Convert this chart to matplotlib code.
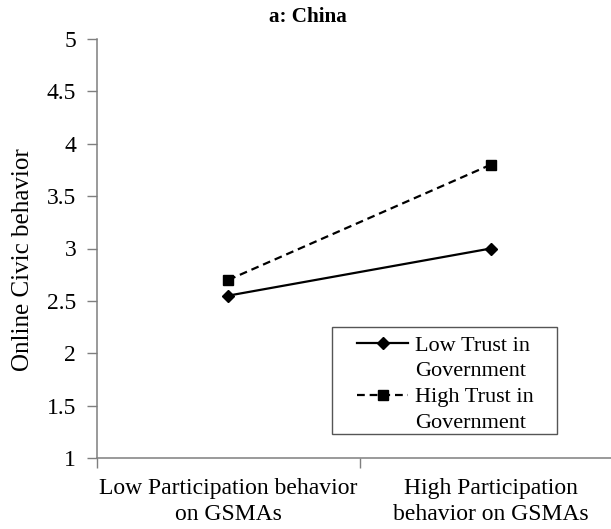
import matplotlib
matplotlib.use("Agg")
import matplotlib.pyplot as plt
from matplotlib.patches import Rectangle
from matplotlib.lines import Line2D

categories = ["Low Participation behavior\non GSMAs", "High Participation\nbehavior on GSMAs"]
low_trust = [2.55, 3.0]
high_trust = [2.70, 3.80]
yticks = [1, 1.5, 2, 2.5, 3, 3.5, 4, 4.5, 5]
ytick_labels = ["1", "1.5", "2", "2.5", "3", "3.5", "4", "4.5", "5"]
series_names = ["Low Trust in\nGovernment", "High Trust in\nGovernment"]
title = "a: China"
ylabel = "Online Civic behavior"

plt.rcParams['font.family'] = ['Liberation Serif', 'DejaVu Serif']

W, H = 611, 529
fig = plt.figure(figsize=(W/100, H/100), dpi=100)
left, right, top, bottom = 97, 622, 39, 458
ax = fig.add_axes([left/W, 1 - bottom/H, (right-left)/W, (bottom-top)/H])

x = [1, 2]
l1, = ax.plot(x, low_trust, color='black', lw=1.6, marker='D', markersize=6)
l2, = ax.plot(x, high_trust, color='black', lw=1.6, ls=(0, (3.5, 2.2)), marker='s', markersize=7.5)

ax.set_xlim(0.5, 2.5)
ax.set_ylim(1, 5)

spine_col = '#7f7f7f'
ax.set_yticks(yticks)
ax.set_yticklabels(ytick_labels, fontsize=17)
ax.tick_params(axis='y', direction='out', length=7, width=1, pad=8, colors=spine_col, labelcolor='black')

ax.set_xticks([0.5, 1.5, 2.5])
ax.set_xticklabels(["", "", ""])
ax.tick_params(axis='x', direction='out', length=7, width=1, colors=spine_col)

for cx, lab in zip(x, categories):
    ax.text(cx, 1 - 20/104.75, lab, ha='center', va='top', fontsize=17,
            transform=ax.transData, linespacing=1.3)

for s in ['top', 'right']:
    ax.spines[s].set_visible(False)
for s in ['left', 'bottom']:
    ax.spines[s].set_color(spine_col)
    ax.spines[s].set_linewidth(1.1)

fig.text(23/W, 1 - 260/H, ylabel, rotation=90, ha='center', va='center', fontsize=18)
fig.text(308/W, 1 - 17/H, title, ha='center', va='center', fontsize=15.2, fontweight='bold')

# legend frame
fig.patches.append(Rectangle((332/W, 1 - 434/H), (557-332)/W, (434-327)/H,
                             transform=fig.transFigure, fill=False, edgecolor='#555555', lw=1.0))
blank = Line2D([], [], linestyle='none')
handles, labels = [], []
for h, name in zip([l1, l2], series_names):
    parts = name.split("\n")
    handles += [h, blank]
    labels += parts
leg = fig.legend(handles, labels, loc='upper left', bbox_to_anchor=(357/W, 1 - 335/H),
                 bbox_transform=fig.transFigure,
                 fontsize=16, frameon=False,
                 handlelength=2.3, borderpad=0, labelspacing=0.24, handletextpad=0.3,
                 borderaxespad=0)

fig.savefig("out.png", dpi=100)
